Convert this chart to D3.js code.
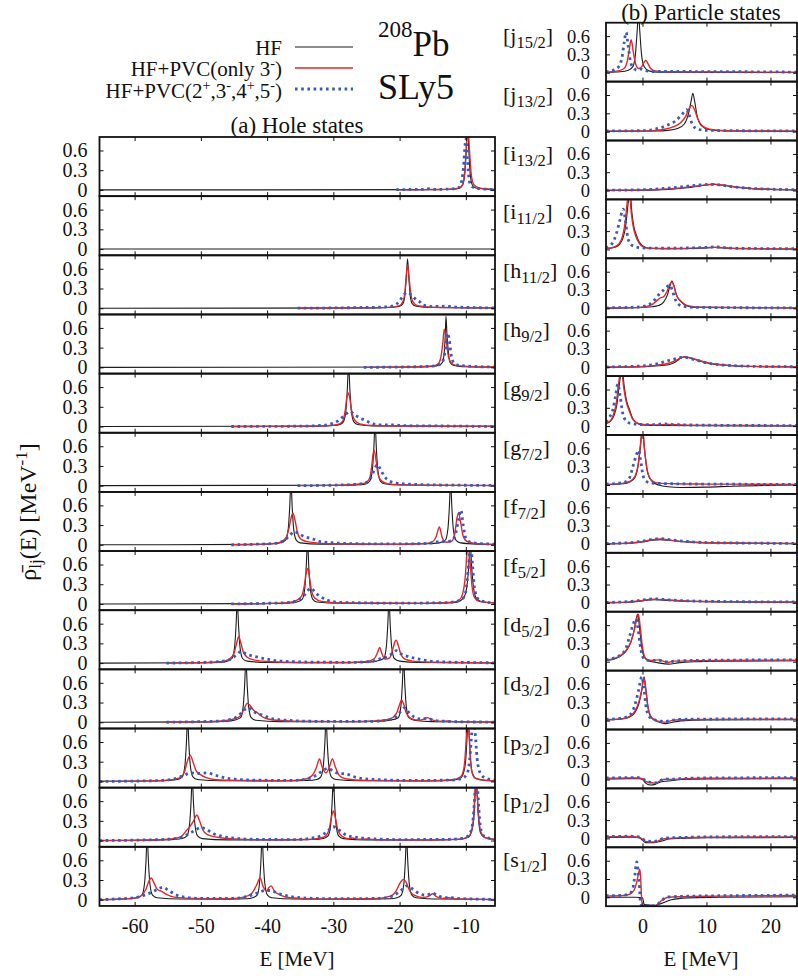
<!DOCTYPE html>
<html><head><meta charset="utf-8">
<script src="https://cdn.jsdelivr.net/npm/d3@7"></script>
<style>body{margin:0;background:#fff}svg{display:block}text{font-family:"Liberation Serif","Times New Roman",serif;fill:#111}</style>
</head><body>
<script>
// ---------------- DATA ----------------
const seriesNames = ["HF", "HF+PVC(only 3⁻)", "HF+PVC(2⁺,3⁻,4⁺,5⁻)"];
const holeStates = ["i13/2","i11/2","h11/2","h9/2","g9/2","g7/2","f7/2","f5/2","d5/2","d3/2","p3/2","p1/2","s1/2"];
const particleLabels = [["j","15/2"],["j","13/2"],["i","13/2"],["i","11/2"],["h","11/2"],["h","9/2"],["g","9/2"],["g","7/2"],["f","7/2"],["f","5/2"],["d","5/2"],["d","3/2"],["p","3/2"],["p","1/2"],["s","1/2"]];
const holeXTicks = [-60,-50,-40,-30,-20,-10];
const partXTicks = [0,10,20];
const yTicks = [0,0.3,0.6];

// Hole states: [E (MeV), density (1/MeV)]
const holeHF = [
 [[-65.3,0],[-15,0.004],[-12,0.01],[-11,0.025],[-10.5,0.07],[-10.15,0.25],[-9.95,0.6],[-9.75,1.0],[-9.55,0.6],[-9.35,0.25],[-9.0,0.07],[-8.5,0.03],[-7,0.012],[-5.6,0.006]],
 [[-65.3,0],[-5.6,0]],
 [[-65.3,0],[-24,0.005],[-21,0.015],[-20,0.03],[-19.5,0.07],[-19.2,0.2],[-19.0,0.45],[-18.8,0.75],[-18.6,0.45],[-18.4,0.2],[-18.1,0.07],[-17.5,0.03],[-15,0.01],[-5.6,0.003]],
 [[-65.3,0],[-18,0.005],[-15,0.015],[-14,0.035],[-13.5,0.08],[-13.25,0.25],[-13.1,0.5],[-13.0,0.78],[-12.85,0.5],[-12.65,0.25],[-12.4,0.08],[-11.8,0.03],[-10,0.01],[-5.6,0.004]],
 [[-65.3,0],[-33,0.006],[-30,0.015],[-29,0.03],[-28.5,0.07],[-28.1,0.25],[-27.9,0.55],[-27.7,0.95],[-27.5,0.55],[-27.3,0.25],[-26.9,0.07],[-26.3,0.03],[-24,0.01],[-5.6,0.003]],
 [[-65.3,0],[-29,0.006],[-26,0.015],[-25,0.03],[-24.5,0.07],[-24.1,0.25],[-23.9,0.55],[-23.7,0.95],[-23.5,0.55],[-23.3,0.25],[-22.9,0.07],[-22.3,0.03],[-20,0.01],[-5.6,0.003]],
 [[-65.3,0],[-42,0.006],[-39,0.015],[-38,0.03],[-37.2,0.07],[-36.8,0.25],[-36.6,0.55],[-36.4,0.95],[-36.2,0.55],[-36.0,0.25],[-35.6,0.07],[-35,0.03],[-32,0.01],[-20,0.008],[-16,0.015],[-14,0.03],[-13.1,0.07],[-12.7,0.25],[-12.5,0.55],[-12.3,0.95],[-12.1,0.55],[-11.9,0.25],[-11.5,0.07],[-10.8,0.03],[-8,0.01],[-5.6,0.005]],
 [[-65.3,0],[-40,0.006],[-36.5,0.015],[-35.5,0.03],[-34.7,0.07],[-34.3,0.25],[-34.1,0.55],[-33.9,0.95],[-33.7,0.55],[-33.5,0.25],[-33.1,0.07],[-32.5,0.03],[-29,0.01],[-16,0.008],[-12,0.02],[-10.8,0.05],[-10.2,0.12],[-9.8,0.3],[-9.55,0.6],[-9.35,1.0],[-9.15,0.6],[-8.9,0.3],[-8.5,0.1],[-7.8,0.04],[-5.6,0.015]],
 [[-65.3,0],[-50,0.006],[-47,0.015],[-46,0.03],[-45.3,0.07],[-44.9,0.25],[-44.7,0.55],[-44.5,0.95],[-44.3,0.55],[-44.1,0.25],[-43.7,0.07],[-43,0.03],[-40,0.01],[-30,0.007],[-25,0.015],[-23.5,0.03],[-22.4,0.07],[-22.0,0.25],[-21.8,0.55],[-21.6,0.95],[-21.4,0.55],[-21.2,0.25],[-20.8,0.07],[-20,0.03],[-17,0.01],[-5.6,0.003]],
 [[-65.3,0],[-49,0.006],[-46,0.015],[-45,0.03],[-44,0.07],[-43.6,0.25],[-43.4,0.55],[-43.2,0.95],[-43.0,0.55],[-42.8,0.25],[-42.4,0.07],[-41.7,0.03],[-38,0.01],[-28,0.007],[-23,0.015],[-21.5,0.03],[-20.2,0.07],[-19.8,0.25],[-19.6,0.55],[-19.4,0.95],[-19.2,0.55],[-19.0,0.25],[-18.6,0.07],[-17.8,0.03],[-15,0.01],[-5.6,0.003]],
 [[-65.3,0],[-58,0.006],[-55,0.015],[-53.5,0.03],[-52.8,0.07],[-52.4,0.25],[-52.2,0.55],[-52.0,0.95],[-51.8,0.55],[-51.6,0.25],[-51.2,0.07],[-50.5,0.03],[-47,0.01],[-38,0.008],[-34,0.015],[-32.5,0.03],[-31.9,0.07],[-31.5,0.25],[-31.3,0.55],[-31.1,0.95],[-30.9,0.55],[-30.7,0.25],[-30.3,0.07],[-29.6,0.03],[-26,0.01],[-16,0.008],[-12,0.02],[-10.8,0.05],[-10.3,0.15],[-10.0,0.35],[-9.8,0.7],[-9.65,1.0],[-9.5,0.7],[-9.3,0.35],[-9.0,0.12],[-8.4,0.04],[-7,0.015],[-5.6,0.008]],
 [[-65.3,0],[-57,0.006],[-54,0.015],[-52.8,0.03],[-52.1,0.07],[-51.7,0.25],[-51.5,0.55],[-51.3,0.95],[-51.1,0.55],[-50.9,0.25],[-50.5,0.07],[-49.8,0.03],[-46,0.01],[-37,0.008],[-33,0.015],[-31.5,0.03],[-30.8,0.07],[-30.4,0.25],[-30.2,0.55],[-30.0,0.95],[-29.8,0.55],[-29.6,0.25],[-29.2,0.07],[-28.5,0.03],[-25,0.01],[-15,0.008],[-11,0.02],[-9.6,0.05],[-9.1,0.15],[-8.8,0.35],[-8.6,0.7],[-8.45,1.0],[-8.3,0.7],[-8.1,0.35],[-7.8,0.12],[-7.2,0.05],[-5.6,0.015]],
 [[-65.3,0],[-63,0.008],[-61,0.015],[-59.6,0.03],[-58.9,0.07],[-58.5,0.25],[-58.3,0.55],[-58.1,0.95],[-57.9,0.55],[-57.7,0.25],[-57.3,0.07],[-56.6,0.03],[-53,0.01],[-46,0.008],[-43,0.015],[-42.2,0.03],[-41.5,0.07],[-41.15,0.25],[-40.95,0.55],[-40.75,0.95],[-40.55,0.55],[-40.35,0.25],[-39.95,0.07],[-39.3,0.03],[-36,0.01],[-25,0.008],[-21.5,0.015],[-20.4,0.03],[-19.75,0.07],[-19.35,0.25],[-19.15,0.55],[-18.95,0.95],[-18.75,0.55],[-18.55,0.25],[-18.15,0.07],[-17.5,0.03],[-14,0.01],[-5.6,0.004]]
];
const holePVC3 = [
 [[-20.5,0],[-16,0.005],[-15.5,0.008],[-14,0.006],[-12,0.015],[-11,0.03],[-10.5,0.08],[-10.2,0.25],[-9.95,0.6],[-9.7,0.95],[-9.45,0.6],[-9.2,0.25],[-8.8,0.08],[-8,0.03],[-7,0.015],[-5.6,0.008]],
 [],
 [[-35.4,0],[-25,0.005],[-21,0.02],[-20,0.04],[-19.5,0.1],[-19.2,0.25],[-19.0,0.5],[-18.8,0.66],[-18.6,0.5],[-18.35,0.25],[-18.0,0.1],[-17.3,0.04],[-15,0.015],[-10,0.008],[-5.6,0.005]],
 [[-25.4,0],[-18,0.006],[-15,0.02],[-14.2,0.05],[-13.8,0.14],[-13.5,0.35],[-13.25,0.58],[-13.0,0.45],[-12.7,0.2],[-12.3,0.08],[-11.5,0.03],[-9,0.01],[-5.6,0.005]],
 [[-45.4,0],[-33,0.006],[-30,0.02],[-29,0.045],[-28.5,0.1],[-28.2,0.25],[-27.95,0.45],[-27.75,0.51],[-27.5,0.42],[-27.2,0.22],[-26.8,0.1],[-26,0.04],[-24,0.015],[-15,0.005],[-5.6,0.003]],
 [[-35.4,0],[-29,0.008],[-26,0.025],[-25,0.05],[-24.5,0.12],[-24.2,0.3],[-24.0,0.48],[-23.85,0.54],[-23.6,0.42],[-23.3,0.2],[-22.9,0.09],[-22,0.035],[-20,0.015],[-12,0.005],[-5.6,0.003]],
 [[-45.4,0],[-42,0.005],[-39,0.02],[-38,0.04],[-37.2,0.1],[-36.7,0.25],[-36.35,0.42],[-36.1,0.48],[-35.8,0.38],[-35.4,0.18],[-34.8,0.08],[-33.5,0.04],[-30,0.015],[-20,0.008],[-16,0.02],[-15,0.05],[-14.5,0.12],[-14.0,0.27],[-13.6,0.12],[-13.0,0.04],[-12.2,0.05],[-11.7,0.15],[-11.35,0.4],[-11.1,0.49],[-10.8,0.35],[-10.4,0.13],[-9.8,0.05],[-8,0.015],[-5.6,0.005]],
 [[-45.4,0],[-40,0.008],[-37,0.02],[-35.6,0.05],[-34.8,0.12],[-34.35,0.3],[-34.1,0.48],[-33.9,0.54],[-33.65,0.44],[-33.3,0.2],[-32.8,0.09],[-31.8,0.04],[-28,0.015],[-16,0.01],[-12,0.025],[-11,0.06],[-10.5,0.15],[-10.1,0.4],[-9.85,0.75],[-9.65,0.9],[-9.4,0.7],[-9.1,0.3],[-8.7,0.1],[-8,0.04],[-5.6,0.015]],
 [[-55.2,0],[-50,0.006],[-47,0.02],[-45.7,0.06],[-45.0,0.15],[-44.6,0.3],[-44.3,0.4],[-44.0,0.32],[-43.6,0.17],[-43,0.09],[-42,0.05],[-40,0.025],[-35,0.01],[-28,0.01],[-25,0.025],[-23.8,0.07],[-23.3,0.17],[-23.0,0.24],[-22.7,0.15],[-22.2,0.06],[-21.5,0.08],[-21.0,0.22],[-20.7,0.33],[-20.5,0.35],[-20.2,0.27],[-19.8,0.13],[-19.2,0.06],[-18,0.03],[-15,0.012],[-5.6,0.004]],
 [[-55.2,0],[-50,0.006],[-47,0.02],[-45,0.05],[-44,0.1],[-43.4,0.22],[-43.0,0.29],[-42.6,0.26],[-42,0.18],[-41.4,0.14],[-40.5,0.07],[-39,0.035],[-35,0.015],[-28,0.01],[-24,0.02],[-21.5,0.05],[-20.5,0.13],[-20,0.27],[-19.7,0.34],[-19.4,0.28],[-19,0.14],[-18.3,0.06],[-17,0.03],[-16.3,0.05],[-15.8,0.07],[-15.2,0.04],[-14,0.015],[-12.8,0.02],[-11.5,0.008],[-5.6,0.003]],
 [[-65.3,0],[-58,0.008],[-55,0.02],[-53.3,0.05],[-52.5,0.14],[-52.0,0.32],[-51.6,0.4],[-51.2,0.3],[-50.7,0.16],[-50,0.1],[-49.3,0.06],[-48,0.03],[-44,0.015],[-37,0.012],[-34.5,0.03],[-33.3,0.08],[-32.6,0.2],[-32.1,0.34],[-31.7,0.22],[-31.1,0.13],[-30.6,0.22],[-30.15,0.34],[-29.7,0.22],[-29.1,0.09],[-28.2,0.04],[-25,0.015],[-15,0.01],[-12,0.025],[-10.8,0.07],[-10.3,0.2],[-10.0,0.55],[-9.85,0.85],[-9.7,1.0],[-9.55,0.8],[-9.35,0.4],[-9.1,0.15],[-8.6,0.05],[-7,0.015],[-5.6,0.008]],
 [[-65.3,0],[-58,0.008],[-55,0.02],[-53,0.06],[-52.2,0.15],[-51.6,0.22],[-51.1,0.3],[-50.6,0.39],[-50.2,0.3],[-49.7,0.16],[-49,0.09],[-47.5,0.05],[-45,0.025],[-40,0.012],[-34,0.015],[-31.5,0.05],[-30.7,0.15],[-30.3,0.35],[-30.0,0.45],[-29.7,0.35],[-29.3,0.15],[-28.6,0.06],[-27.7,0.03],[-27.1,0.04],[-26.3,0.02],[-24.8,0.025],[-23.5,0.01],[-15,0.008],[-11,0.02],[-9.6,0.06],[-9.1,0.17],[-8.8,0.4],[-8.6,0.8],[-8.45,1.0],[-8.3,0.75],[-8.05,0.35],[-7.7,0.12],[-7,0.04],[-5.6,0.015]],
 [[-65.3,0],[-62,0.01],[-60,0.025],[-59,0.06],[-58.3,0.16],[-57.8,0.29],[-57.5,0.33],[-57.1,0.26],[-56.6,0.16],[-56,0.13],[-55.2,0.08],[-54,0.04],[-51,0.02],[-46,0.015],[-43.5,0.04],[-42.3,0.1],[-41.6,0.22],[-41.05,0.33],[-40.6,0.2],[-40.1,0.13],[-39.7,0.19],[-39.4,0.21],[-38.9,0.13],[-38,0.07],[-36.5,0.03],[-32,0.012],[-24,0.015],[-21.5,0.05],[-20.5,0.14],[-19.9,0.26],[-19.4,0.31],[-19,0.26],[-18.5,0.14],[-17.8,0.07],[-16.5,0.035],[-15.5,0.06],[-15.0,0.09],[-14.5,0.05],[-13.5,0.02],[-12.5,0.03],[-11.5,0.01],[-5.6,0.004]]
];
const holePVCall = [
 [[-20.5,0.005],[-16.5,0.008],[-15.5,0.02],[-14.5,0.008],[-12,0.015],[-11,0.04],[-10.6,0.15],[-10.35,0.35],[-10.1,0.7],[-9.95,0.78],[-9.75,0.45],[-9.5,0.15],[-9.1,0.05],[-8,0.02],[-5.6,0.005]],
 [],
 [[-35.4,0],[-26,0.01],[-22,0.02],[-21,0.035],[-20.5,0.06],[-20,0.11],[-19.4,0.2],[-18.8,0.24],[-18.2,0.2],[-17.5,0.13],[-17,0.1],[-16.5,0.05],[-15,0.025],[-13,0.03],[-11,0.015],[-5.6,0.005]],
 [[-25.4,0],[-18,0.008],[-15,0.02],[-13.8,0.05],[-13.3,0.15],[-13.0,0.35],[-12.75,0.52],[-12.5,0.42],[-12.2,0.18],[-11.8,0.07],[-11,0.03],[-8,0.01],[-5.6,0.005]],
 [[-45.4,0],[-35,0.005],[-32,0.015],[-30,0.05],[-29.1,0.1],[-28.3,0.17],[-27.5,0.23],[-26.8,0.18],[-26,0.13],[-25.3,0.1],[-24.3,0.05],[-23,0.025],[-21.3,0.025],[-19,0.012],[-10,0.005],[-5.6,-0.002]],
 [[-35.4,0],[-29,0.01],[-26,0.025],[-24.8,0.06],[-24.2,0.15],[-23.7,0.27],[-23.35,0.32],[-22.9,0.25],[-22.3,0.14],[-21.5,0.07],[-20.5,0.04],[-18,0.02],[-14,0.01],[-5.6,0.004]],
 [[-45.4,0],[-42,0.008],[-39,0.02],[-37.5,0.06],[-36.5,0.15],[-35.9,0.2],[-35.2,0.17],[-34.3,0.12],[-33.4,0.1],[-32,0.05],[-30,0.03],[-25,0.015],[-18,0.015],[-15,0.03],[-14,0.05],[-13,0.05],[-12.2,0.06],[-11.6,0.15],[-11.1,0.38],[-10.75,0.53],[-10.4,0.3],[-10,0.1],[-9.3,0.04],[-8,0.02],[-5.6,0.01]],
 [[-45.4,0],[-40,0.01],[-37,0.02],[-35.5,0.05],[-34.5,0.12],[-33.9,0.2],[-33.4,0.24],[-32.6,0.16],[-31.9,0.11],[-31,0.06],[-29,0.025],[-20,0.012],[-13,0.02],[-11,0.05],[-10.2,0.12],[-9.8,0.35],[-9.5,0.7],[-9.25,0.88],[-9.0,0.6],[-8.7,0.25],[-8.2,0.08],[-7,0.03],[-5.6,0.015]],
 [[-55.2,0],[-50,0.01],[-47,0.025],[-45.5,0.06],[-44.6,0.13],[-43.9,0.18],[-43.2,0.14],[-41.8,0.1],[-40,0.06],[-38,0.03],[-33,0.015],[-27,0.012],[-24,0.03],[-22.8,0.07],[-22,0.09],[-21.2,0.14],[-20.5,0.19],[-19.8,0.14],[-18.7,0.1],[-17.5,0.07],[-16,0.04],[-14,0.02],[-10,0.01],[-5.6,0.004]],
 [[-55.2,0],[-50,0.01],[-47,0.02],[-45,0.06],[-44,0.13],[-43.3,0.2],[-42.8,0.22],[-42,0.16],[-40.5,0.1],[-39.5,0.06],[-37,0.03],[-33,0.015],[-25,0.012],[-22,0.03],[-20.5,0.09],[-19.8,0.17],[-19.3,0.22],[-18.7,0.16],[-17.8,0.08],[-16.8,0.05],[-15.8,0.06],[-14.8,0.03],[-13,0.015],[-10,0.005],[-5.6,0.003]],
 [[-65.3,0],[-60,0.005],[-56,0.015],[-54,0.04],[-52.6,0.09],[-51.5,0.13],[-50.5,0.12],[-49,0.13],[-48,0.1],[-47,0.07],[-45.5,0.04],[-42,0.02],[-36,0.015],[-33.5,0.05],[-32.5,0.1],[-31.5,0.17],[-30.8,0.2],[-30.2,0.17],[-29.5,0.13],[-28,0.11],[-26.5,0.06],[-24,0.03],[-18,0.015],[-12,0.02],[-10.5,0.05],[-9.8,0.12],[-9.4,0.35],[-9.1,0.75],[-8.85,0.95],[-8.6,0.75],[-8.3,0.35],[-7.8,0.12],[-7,0.05],[-5.6,0.02]],
 [[-65.3,0],[-58,0.01],[-55,0.02],[-53,0.05],[-51.5,0.12],[-50.5,0.18],[-50,0.2],[-49.2,0.17],[-48,0.1],[-47,0.07],[-45.5,0.04],[-42,0.02],[-36,0.015],[-32.5,0.05],[-31,0.13],[-30.0,0.21],[-29,0.15],[-28,0.08],[-26.5,0.05],[-24.5,0.03],[-20,0.015],[-12,0.02],[-10,0.05],[-9.2,0.15],[-8.8,0.45],[-8.55,0.85],[-8.4,0.95],[-8.2,0.75],[-7.95,0.35],[-7.6,0.12],[-7,0.05],[-5.6,0.02]],
 [[-65.3,0],[-62,0.015],[-60,0.03],[-58.5,0.07],[-57.5,0.11],[-56.5,0.16],[-55.7,0.19],[-55,0.15],[-53.9,0.08],[-52.5,0.04],[-50,0.02],[-45,0.02],[-43,0.05],[-41.5,0.1],[-40.2,0.14],[-39.4,0.14],[-38.5,0.1],[-37,0.06],[-35,0.03],[-30,0.015],[-23,0.02],[-21,0.06],[-19.8,0.14],[-18.9,0.21],[-18,0.16],[-17,0.09],[-16,0.07],[-15.0,0.1],[-14.2,0.06],[-13,0.03],[-12.5,0.04],[-11.5,0.02],[-5.6,0.005]]
];

// Particle states
const partHF = [
 [[-5.7,0.005],[-3.5,0.015],[-2.2,0.04],[-1.5,0.1],[-1.1,0.3],[-0.85,0.65],[-0.62,0.95],[-0.4,0.65],[-0.15,0.3],[0.25,0.1],[1,0.03],[2.5,0.01],[24.2,0.003]],
 [[-5.7,0.004],[2,0.01],[4,0.02],[5.5,0.05],[6.5,0.12],[7.2,0.3],[7.6,0.5],[7.87,0.63],[8.15,0.5],[8.5,0.28],[9.2,0.1],[10.5,0.03],[13,0.01],[24.2,0.004]],
 [[-5.7,0],[0,0.005],[3,0.012],[5,0.025],[7,0.045],[9,0.075],[10.5,0.095],[11.2,0.1],[12.5,0.085],[14.5,0.055],[17,0.03],[20,0.018],[24.2,0.01]],
 [[-5.7,0.01],[-4.5,0.03],[-3.6,0.08],[-3.0,0.2],[-2.6,0.4],[-2.25,0.75],[-1.95,0.95],[-1.65,0.6],[-1.3,0.35],[-1,0.25],[-0.5,0.12],[0,0.06],[1,0.02],[5,0.01],[9,0.02],[11.3,0.03],[14,0.015],[24.2,0.005]],
 [[-5.7,0.003],[-2,0.008],[0,0.015],[1.5,0.025],[2.5,0.045],[3.3,0.1],[3.9,0.22],[4.3,0.37],[4.6,0.45],[4.9,0.38],[5.3,0.22],[6.2,0.09],[7,0.04],[8.5,0.015],[24.2,0.004]],
 [[-5.7,0],[0,0.008],[2,0.02],[4.1,0.04],[5.2,0.09],[6,0.15],[6.5,0.17],[7.5,0.15],[9,0.1],[10.3,0.065],[12,0.04],[14.4,0.02],[18,0.01],[24.2,0.005]],
 [[-5.7,0.04],[-5,0.08],[-4.5,0.16],[-4.0,0.35],[-3.6,0.7],[-3.2,0.95],[-2.85,0.65],[-2.45,0.4],[-2.05,0.28],[-1.5,0.12],[-1,0.06],[0,0.02],[2,0.01],[24.2,0.003]],
 [[-5.7,0.005],[-3,0.02],[-2,0.05],[-1.2,0.12],[-0.7,0.3],[-0.3,0.65],[0,0.95],[0.3,0.6],[0.8,0.2],[1.5,0.06],[2.5,0.0],[4,-0.03],[6,-0.04],[10,-0.035],[14,-0.02],[18,-0.01],[24.2,0]],
 [[-5.7,0],[-2,0.01],[0,0.03],[1.5,0.06],[2.8,0.07],[4.5,0.055],[7,0.03],[10,0.015],[24.2,0.005]],
 [[-5.7,0],[-2,0.01],[0,0.03],[1,0.045],[2.05,0.05],[4,0.04],[7,0.025],[12,0.015],[24.2,0.008]],
 [[-5.7,0.02],[-4.5,0.04],[-3.6,0.08],[-2.6,0.17],[-1.8,0.32],[-1.3,0.52],[-0.95,0.72],[-0.75,0.78],[-0.5,0.6],[-0.2,0.3],[0.25,0.08],[0.8,0.02],[1.5,0.0],[2.5,-0.02],[4.1,-0.04],[5.5,-0.02],[8,0.0],[12,0.01],[24.2,0.015]],
 [[-5.7,0.01],[-3,0.03],[-2,0.06],[-1.2,0.13],[-0.5,0.3],[-0.1,0.5],[0.25,0.72],[0.55,0.5],[0.9,0.2],[1.3,0.06],[2,0.0],[3,-0.04],[3.6,-0.05],[4.5,-0.03],[6,-0.005],[10,0.01],[24.2,0.015]],
 [[-5.7,0.01],[-2,0.015],[-0.5,0.015],[0,0.0],[0.5,-0.06],[1.2,-0.09],[2,-0.08],[2.8,-0.04],[3.5,-0.03],[4.5,-0.02],[6,0.0],[10,0.01],[24.2,0.015]],
 [[-5.7,0.015],[-2,0.02],[-1,0.02],[-0.3,0.0],[0.5,-0.07],[1.5,-0.07],[2.3,-0.06],[3.2,-0.04],[4.1,-0.01],[6,0.0],[10,0.01],[24.2,0.015]],
 [[-5.7,0.0],[-1,0.0],[0,-0.01],[0.3,-0.12],[2,-0.13],[3,-0.1],[4.5,-0.04],[7,-0.01],[12,0.0],[24.2,0.01]]
];
const partPVC3 = [
 [[-5.7,0.01],[-4,0.025],[-3,0.06],[-2.5,0.14],[-2.1,0.35],[-1.77,0.54],[-1.45,0.35],[-1.05,0.14],[-0.6,0.07],[-0.1,0.1],[0.25,0.17],[0.53,0.2],[0.85,0.15],[1.3,0.07],[2,0.03],[4,0.015],[24.2,0.008]],
 [[-5.7,0.008],[1,0.012],[3,0.03],[4.9,0.08],[5.9,0.14],[6.7,0.24],[7.3,0.38],[7.7,0.43],[8.1,0.37],[8.6,0.22],[9.4,0.09],[10.5,0.04],[13,0.015],[24.2,0.008]],
 [[-5.7,0.005],[0,0.01],[3,0.02],[5,0.035],[7,0.055],[9,0.08],[10.5,0.1],[11.2,0.105],[12.5,0.09],[14.5,0.06],[17,0.035],[20,0.022],[24.2,0.013]],
 [[-5.7,0.015],[-4.5,0.035],[-3.7,0.09],[-3.1,0.22],[-2.7,0.45],[-2.35,0.8],[-2.05,0.95],[-1.75,0.6],[-1.4,0.35],[-1.05,0.22],[-0.5,0.1],[0,0.05],[1,0.02],[5,0.015],[9,0.025],[11.3,0.035],[14,0.02],[24.2,0.008]],
 [[-5.7,0.005],[-2,0.01],[0,0.02],[1.5,0.06],[2.3,0.13],[2.8,0.17],[3.3,0.19],[3.8,0.27],[4.3,0.4],[4.6,0.43],[4.9,0.37],[5.3,0.22],[6.2,0.1],[7,0.045],[8.5,0.02],[24.2,0.006]],
 [[-5.7,0.003],[0,0.012],[2,0.03],[4.1,0.065],[5.2,0.11],[6,0.155],[6.5,0.17],[7.5,0.155],[9,0.105],[10.3,0.07],[12,0.045],[14.4,0.025],[18,0.013],[24.2,0.007]],
 [[-5.7,0.05],[-5.1,0.08],[-4.6,0.17],[-4.1,0.37],[-3.7,0.72],[-3.3,0.95],[-2.95,0.65],[-2.55,0.4],[-2.1,0.26],[-1.5,0.11],[-1,0.06],[0,0.025],[2,0.02],[4,0.025],[8,0.015],[24.2,0.006]],
 [[-5.7,0.01],[-3,0.03],[-2,0.06],[-1.2,0.14],[-0.7,0.32],[-0.3,0.68],[0,0.95],[0.3,0.6],[0.8,0.22],[1.5,0.07],[2.5,0.03],[5,0.02],[10,0.015],[24.2,0.01]],
 [[-5.7,0.003],[-2,0.015],[0,0.04],[1.5,0.07],[2.8,0.08],[4.5,0.06],[7,0.035],[10,0.02],[24.2,0.007]],
 [[-5.7,0.004],[-2,0.015],[0,0.04],[1,0.055],[2.05,0.06],[4,0.045],[7,0.03],[12,0.02],[24.2,0.012]],
 [[-5.7,0.025],[-4.5,0.05],[-3.6,0.09],[-2.6,0.18],[-1.8,0.33],[-1.2,0.55],[-0.85,0.73],[-0.65,0.78],[-0.4,0.62],[-0.1,0.32],[0.3,0.09],[0.8,0.03],[1.5,0.02],[2.5,0.03],[3.5,0.0],[4.1,-0.01],[5,0.01],[8,0.015],[12,0.02],[24.2,0.025]],
 [[-5.7,0.015],[-3,0.035],[-2,0.07],[-1.2,0.15],[-0.5,0.33],[-0.1,0.52],[0.2,0.7],[0.5,0.52],[0.85,0.22],[1.3,0.07],[2,0.01],[3,-0.02],[3.6,-0.025],[4.5,0.0],[6,0.015],[10,0.02],[24.2,0.025]],
 [[-5.7,0.02],[-2,0.025],[-0.5,0.025],[0,0.01],[0.5,-0.03],[1.2,-0.05],[2,-0.06],[2.8,-0.02],[3.5,0.005],[4.5,0.0],[6,0.01],[10,0.02],[24.2,0.025]],
 [[-5.7,0.025],[-2,0.03],[-1,0.025],[-0.3,0.01],[0.5,-0.05],[1.5,-0.06],[2.3,-0.05],[3.2,-0.01],[4.1,0.0],[6,0.01],[10,0.02],[24.2,0.025]],
 [[-5.7,0.02],[-3,0.03],[-2,0.05],[-1.3,0.12],[-0.9,0.25],[-0.6,0.4],[-0.45,0.46],[-0.3,0.35],[-0.15,0.0],[0,-0.14],[2,-0.14],[3,-0.05],[4,0.0],[6,0.01],[12,0.02],[24.2,0.03]]
];
const partPVCall = [
 [[-5.7,0.015],[-4.6,0.04],[-3.7,0.1],[-3.2,0.25],[-2.85,0.5],[-2.55,0.66],[-2.25,0.45],[-1.8,0.15],[-1.3,0.07],[-0.9,0.04],[-0.3,0.06],[0.3,0.04],[1.5,0.02],[3,0.02],[24.2,0.01]],
 [[-5.7,0.01],[0,0.015],[1.5,0.03],[3,0.07],[4,0.11],[5.1,0.17],[6,0.26],[6.6,0.33],[6.9,0.36],[7.3,0.27],[7.8,0.12],[8.6,0.04],[10,0.02],[24.2,0.01]],
 [[-5.7,0.005],[0,0.012],[3,0.03],[4.6,0.045],[7,0.07],[9,0.09],[10.5,0.1],[11.2,0.1],[12.5,0.085],[14.5,0.055],[17,0.035],[20,0.022],[24.2,0.013]],
 [[-5.7,0.02],[-5.2,0.05],[-4.6,0.12],[-4.1,0.25],[-3.6,0.45],[-3.0,0.66],[-2.7,0.5],[-2.3,0.2],[-1.8,0.08],[-1,0.04],[0,0.025],[2,0.02],[5,0.02],[9,0.03],[11.3,0.04],[14,0.02],[24.2,0.01]],
 [[-5.7,0.008],[-2,0.015],[0,0.03],[1.2,0.07],[2,0.15],[2.6,0.23],[3.3,0.3],[3.9,0.36],[4.3,0.38],[4.7,0.28],[5.2,0.13],[5.7,0.06],[6.5,0.03],[8.5,0.015],[24.2,0.006]],
 [[-5.7,0.005],[0,0.02],[2,0.05],[4.1,0.11],[5.2,0.14],[6,0.16],[6.4,0.165],[7.5,0.14],[9,0.1],[10.3,0.065],[12,0.04],[14.4,0.025],[18,0.013],[24.2,0.007]],
 [[-5.7,0.07],[-5.2,0.14],[-4.6,0.28],[-4.2,0.5],[-3.85,0.69],[-3.5,0.5],[-3.1,0.22],[-2.6,0.09],[-2,0.05],[0,0.025],[2,0.025],[3.1,0.035],[5,0.025],[10,0.015],[24.2,0.008]],
 [[-5.7,0.015],[-3,0.04],[-2.1,0.1],[-1.5,0.3],[-1.0,0.48],[-0.6,0.57],[-0.3,0.42],[0.1,0.15],[0.6,0.06],[1.5,0.03],[5,0.02],[10,0.015],[24.2,0.01]],
 [[-5.7,0.006],[-2,0.02],[0,0.045],[1.5,0.075],[2.8,0.085],[4.5,0.065],[7,0.04],[10,0.022],[24.2,0.008]],
 [[-5.7,0.006],[-2,0.02],[0,0.045],[1,0.06],[2.05,0.063],[4,0.048],[7,0.032],[12,0.022],[24.2,0.013]],
 [[-5.7,0.03],[-4.5,0.06],[-3.6,0.1],[-2.6,0.22],[-2,0.42],[-1.5,0.6],[-1.0,0.7],[-0.7,0.55],[-0.4,0.3],[0,0.09],[0.5,0.03],[1.5,0.02],[2.5,0.025],[3.5,0.0],[4.1,-0.005],[5,0.01],[8,0.02],[12,0.025],[24.2,0.03]],
 [[-5.7,0.02],[-3,0.045],[-2,0.09],[-1.2,0.25],[-0.6,0.5],[-0.1,0.72],[0.2,0.55],[0.6,0.2],[1.1,0.06],[2,0.01],[3,-0.01],[3.6,-0.015],[4.5,0.005],[6,0.02],[10,0.025],[24.2,0.03]],
 [[-5.7,0.025],[-2,0.03],[-0.5,0.03],[0,0.015],[0.5,-0.02],[1.2,-0.045],[2,-0.055],[2.8,-0.015],[3.5,0.01],[4.5,0.005],[6,0.015],[10,0.025],[24.2,0.03]],
 [[-5.7,0.03],[-2,0.035],[-1,0.03],[-0.3,0.015],[0.5,-0.04],[1.5,-0.05],[2.3,-0.04],[3.2,0.0],[4.1,0.01],[6,0.015],[10,0.025],[24.2,0.03]],
 [[-5.7,0.025],[-3,0.035],[-2,0.06],[-1.5,0.15],[-1.2,0.35],[-0.9,0.58],[-0.7,0.45],[-0.45,0.15],[-0.3,-0.1],[0,-0.14],[2,-0.14],[3,-0.05],[4,0.005],[6,0.015],[12,0.025],[24.2,0.035]]
];

// ---------------- DRAWING ----------------
const W = 798, H = 976;
const FONT = '"Liberation Serif", "Times New Roman", serif';
const COLORS = ["#1c1c1c", "#e3262b", "#3b59b6"];
const svg = d3.select("body").append("svg").attr("width", W).attr("height", H).attr("font-family", FONT);
let clipId = 0;

function drawPanel(o) {
  const x = d3.scaleLinear().domain(o.xDomain).range(o.xRange);
  const nRows = o.hf.length;
  for (let i = 0; i < nRows; i++) {
    const top = o.top + i * o.rowH, bot = top + o.rowH;
    const y = d3.scaleLinear().domain(o.yDomain).range([bot, top]);
    const g = svg.append("g");
    const id = "clip" + (clipId++);
    svg.append("clipPath").attr("id", id).append("rect")
      .attr("x", o.xRange[0]).attr("y", top).attr("width", o.xRange[1] - o.xRange[0]).attr("height", o.rowH);
    const line = d3.line().x(d => x(d[0])).y(d => y(d[1])).curve(d3.curveMonotoneX);
    const cg = g.append("g").attr("clip-path", `url(#${id})`);
    [o.hf[i], o.r[i], o.b[i]].forEach((data, k) => {
      if (!data || !data.length) return;
      const p = cg.append("path").attr("d", line(data)).attr("fill", "none").attr("stroke", COLORS[k]);
      if (k === 0) p.attr("stroke-width", 1.1);
      if (k === 1) p.attr("stroke-width", 1.4);
      if (k === 2) p.attr("stroke-width", 2.8).attr("stroke-dasharray", "2.6,3.6");
    });
    const fmtY = d => d === 0 ? "0" : d.toFixed(1);
    const yl = g.append("g").attr("transform", `translate(${o.xRange[0]},0)`)
      .call(d3.axisLeft(y).tickValues(yTicks).tickSize(-4).tickPadding(o.yPad).tickFormat(fmtY));
    yl.selectAll("text").style("font-size", o.yFont + "px");
    const yr = g.append("g").attr("transform", `translate(${o.xRange[1]},0)`)
      .call(d3.axisRight(y).tickValues(yTicks).tickSize(-4).tickFormat(""));
    const xt = g.append("g").attr("transform", `translate(0,${top})`)
      .call(d3.axisTop(x).tickValues(o.xTicks).tickSize(-4).tickFormat(""));
    const xb = g.append("g").attr("transform", `translate(0,${bot})`)
      .call(d3.axisBottom(x).tickValues(o.xTicks).tickSize(-4).tickPadding(13)
        .tickFormat(i === nRows - 1 ? (d => String(d)) : ""));
    xb.selectAll("text").style("font-size", "20px");
    [yl, yr, xt, xb].forEach(a => {
      a.attr("font-family", null).attr("font-size", null);
      a.select(".domain").remove();
      a.selectAll("line").attr("stroke", "#111").attr("stroke-width", 1);
      a.selectAll("text").filter(function(){ return !this.textContent; }).remove();
    });
    g.append("rect").attr("x", o.xRange[0]).attr("y", top).attr("width", o.xRange[1] - o.xRange[0]).attr("height", o.rowH)
      .attr("fill", "none").attr("stroke", "#111").attr("stroke-width", 1.8);
    if (o.labels) {
      const t = g.append("text").attr("x", 503).attr("y", top + 20).style("font-size", "22px");
      t.append("tspan").text("[" + o.labels[i][0]);
      t.append("tspan").attr("dy", 5).style("font-size", "16.5px").text(o.labels[i][1]);
      t.append("tspan").attr("dy", -5).text("]");
    }
  }
}

drawPanel({ xDomain: [-65.3, -5.6], xRange: [99.5, 495], top: 137, rowH: 59.15, yDomain: [-0.095, 0.805],
  hf: holeHF, r: holePVC3, b: holePVCall, xTicks: holeXTicks, yPad: 12, yFont: 20 });
drawPanel({ xDomain: [-5.7, 24.15], xRange: [606, 797], top: 22.7, rowH: 58.9, yDomain: [-0.146, 0.82],
  hf: partHF, r: partPVC3, b: partPVCall, xTicks: partXTicks, yPad: 16, yFont: 18.5, labels: particleLabels });

// titles
svg.append("text").attr("x", 297).attr("y", 133).attr("text-anchor", "middle").style("font-size", "23px").text("(a) Hole states");
svg.append("text").attr("x", 701).attr("y", 20).attr("text-anchor", "middle").style("font-size", "23px").text("(b) Particle states");
svg.append("text").attr("x", 297).attr("y", 966).attr("text-anchor", "middle").style("font-size", "21px").text("E [MeV]");
svg.append("text").attr("x", 701).attr("y", 966).attr("text-anchor", "middle").style("font-size", "21px").text("E [MeV]");

// y title
const yt = svg.append("text").attr("transform", "translate(36,512) rotate(-90)").attr("text-anchor", "middle").style("font-size", "24px");
yt.append("tspan").text("ρ̄");
yt.append("tspan").attr("dy", 5).style("font-size", "17px").text("lj");
yt.append("tspan").attr("dy", -5).text("(E) [MeV");
yt.append("tspan").attr("dy", -9).style("font-size", "17px").text("-1");
yt.append("tspan").attr("dy", 9).text("]");

// legend
const legY = [47, 68, 89];
const lg = svg.append("g");
[0, 1, 2].forEach(k => {
  const l = lg.append("line").attr("x1", 295).attr("x2", 353).attr("y1", legY[k]).attr("y2", legY[k]).attr("stroke", COLORS[k]);
  if (k === 0) l.attr("stroke-width", 1.1);
  if (k === 1) l.attr("stroke-width", 1.4);
  if (k === 2) l.attr("stroke-width", 2.8).attr("stroke-dasharray", "2.6,3.6");
});
lg.append("text").attr("x", 282).attr("y", 55).attr("text-anchor", "end").style("font-size", "21px").text("HF");
const lt1 = lg.append("text").attr("x", 282).attr("y", 76).attr("text-anchor", "end").style("font-size", "21px");
lt1.append("tspan").text("HF+PVC(only 3");
lt1.append("tspan").attr("dy", -8).style("font-size", "14px").text("-");
lt1.append("tspan").attr("dy", 8).text(")");
const lt2 = lg.append("text").attr("x", 282).attr("y", 98).attr("text-anchor", "end").style("font-size", "21px");
[["HF+PVC(2", false], ["+", true], [",3", false], ["-", true], [",4", false], ["+", true], [",5", false], ["-", true], [")", false]].forEach(([s, sup], idx) => {
  const t = lt2.append("tspan").text(s);
  if (sup) t.attr("dy", -8).style("font-size", "14px");
  else if (idx > 0) t.attr("dy", 8);
});

// nucleus / interaction
const nuc = svg.append("text").attr("x", 378).attr("y", 56);
nuc.append("tspan").attr("dy", -19).style("font-size", "23px").text("208");
nuc.append("tspan").attr("dy", 19).style("font-size", "35px").text("Pb");
svg.append("text").attr("x", 378).attr("y", 99).style("font-size", "36px").text("SLy5");

// make sure every text uses the serif family
svg.selectAll("text").style("font-family", FONT).attr("fill", "#111");
</script>
</body></html>
